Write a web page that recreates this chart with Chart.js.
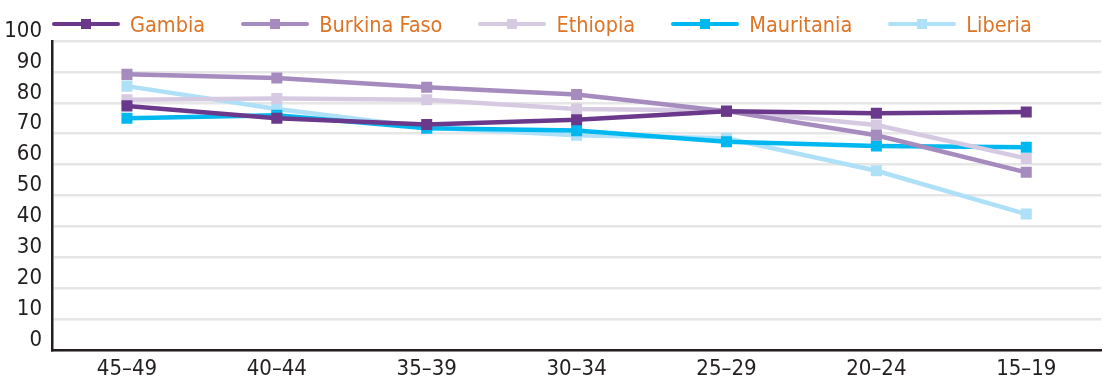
<!DOCTYPE html>
<html>
<head>
<meta charset="utf-8">
<script src="https://cdn.jsdelivr.net/npm/chart.js@4/dist/chart.umd.min.js"></script>
<style>
    html, body { margin: 0; padding: 0; background: #ffffff; overflow: hidden; }
    #wrap { position: relative; width: 1103px; height: 377px; overflow: hidden; }
    #chart { position: absolute; left: 0; top: 0; }
    #legend {
        position: absolute; left: 52px; top: 11px; height: 26px;
        display: flex; align-items: center;
        font-family: "Liberation Sans Narrow", "DejaVu Sans Condensed", sans-serif;
        font-size: 21.5px; color: #DE7426;
    }
    .item { display: flex; align-items: center; margin-right: 36px; }
    .swatch { position: relative; width: 68px; height: 3.5px; border-radius: 2px; margin-right: 10px; }
    .swatch span { position: absolute; left: 29px; top: -3.25px; width: 10px; height: 10px; }
</style>
</head>
<body>
<div id="wrap">
    <!-- a little wider than the window: Chart.js keeps a few px of right padding for the last label -->
    <canvas id="chart" width="1109" height="377"></canvas>
    <div id="legend"></div>
</div>
<script>
// Age groups (x axis)
const ageGroups = ['45–49', '40–44', '35–39', '30–34', '25–29', '20–24', '15–19'];

// Series values
const gambia      = [79, 75, 73, 74.5, 77.3, 76.6, 77];
const burkinaFaso = [89.2, 88, 85, 82.7, 77.3, 69.5, 57.5];
const ethiopia    = [81, 81.4, 81, 78, 77.5, 72.8, 62];
const mauritania  = [75, 76, 71.8, 71, 67.4, 66, 65.6];
const liberia     = [85.4, 78, 72, 69.5, 68.5, 58, 44];

const seriesNames  = ['Gambia', 'Burkina Faso', 'Ethiopia', 'Mauritania', 'Liberia'];
const seriesColors = ['#6B398B', '#A58BBE', '#D6CAE2', '#00B8F0', '#AEE0F8'];
const seriesData   = [gambia, burkinaFaso, ethiopia, mauritania, liberia];

const yTicks = [0, 10, 20, 30, 40, 50, 60, 70, 80, 90, 100];

const fontFamily = '"Liberation Sans Narrow", "DejaVu Sans Condensed", sans-serif';
const axisColor = '#231F20';
const gridColor = '#E6E6E7';

// Build legend (line + square marker, orange label)
const legendEl = document.getElementById('legend');
seriesNames.forEach((name, i) => {
    const item = document.createElement('div');
    item.className = 'item';
    const sw = document.createElement('div');
    sw.className = 'swatch';
    sw.style.background = seriesColors[i];
    const mk = document.createElement('span');
    mk.style.background = seriesColors[i];
    sw.appendChild(mk);
    const label = document.createElement('div');
    label.textContent = name;
    item.appendChild(sw);
    item.appendChild(label);
    legendEl.appendChild(item);
});

const datasets = seriesNames.map((name, i) => ({
    label: name,
    data: seriesData[i],
    borderColor: seriesColors[i],
    backgroundColor: seriesColors[i],
    borderWidth: 4.5,
    pointStyle: 'rect',
    pointRadius: 7.8,
    pointBorderWidth: 0,
    pointBackgroundColor: seriesColors[i],
    tension: 0,
    fill: false
}));

const ctx = document.getElementById('chart').getContext('2d');
new Chart(ctx, {
    type: 'line',
    data: { labels: ageGroups, datasets: datasets },
    options: {
        responsive: false,
        animation: false,
        layout: { padding: { top: 41, right: 0, bottom: 0, left: 0 } },
        plugins: {
            legend: { display: false },
            tooltip: { enabled: false }
        },
        scales: {
            x: {
                offset: true,
                grid: { display: false, drawTicks: false },
                border: { display: true, color: axisColor, width: 2.5 },
                ticks: {
                    color: axisColor,
                    padding: 6,
                    font: { family: fontFamily, size: 22 }
                },
                afterFit: scale => { scale.height = 27; }
            },
            y: {
                min: 0,
                max: 100,
                afterBuildTicks: scale => { scale.ticks = yTicks.map(v => ({ value: v })); },
                grid: { color: gridColor, lineWidth: 2.5, drawTicks: false },
                border: { display: true, color: axisColor, width: 2.5 },
                ticks: {
                    color: axisColor,
                    padding: 10,
                    labelOffset: -10,
                    font: { family: fontFamily, size: 22 }
                },
                afterFit: scale => { scale.width = 52; }
            }
        }
    }
});
</script>
</body>
</html>
